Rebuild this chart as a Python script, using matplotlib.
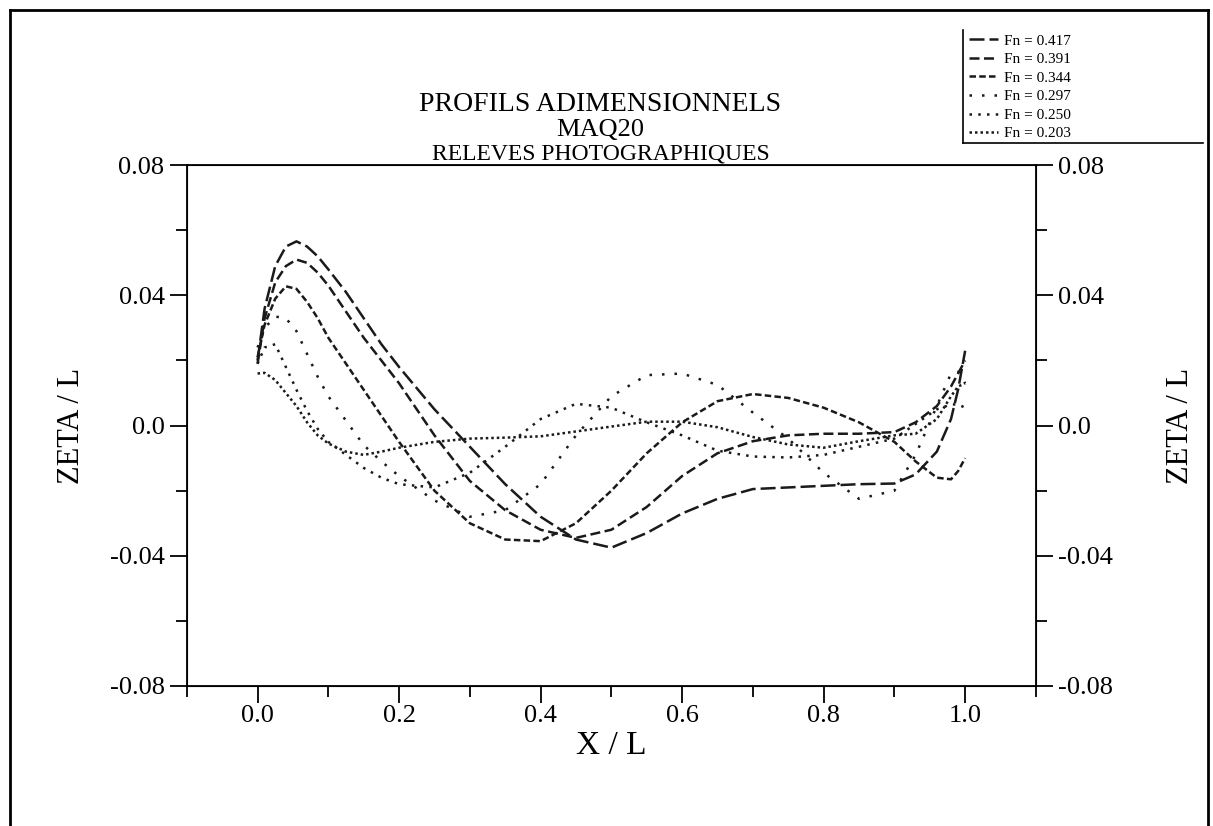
import matplotlib
matplotlib.use("Agg")
import matplotlib.pyplot as plt
from matplotlib.lines import Line2D
from matplotlib.ticker import MultipleLocator, FixedLocator

plt.rcParams['font.family'] = ['Liberation Serif', 'DejaVu Serif']

# abscisses communes (X / L)
x_l = [0.0, 0.01, 0.025, 0.04, 0.055, 0.07, 0.085, 0.1, 0.125, 0.15, 0.175, 0.2,
       0.25, 0.3, 0.35, 0.4, 0.45, 0.5, 0.55, 0.6, 0.65, 0.7, 0.75, 0.8, 0.85,
       0.9, 0.93, 0.96, 0.98, 0.99, 1.0]

fn_0417 = [0.020, 0.036, 0.049, 0.055, 0.0566, 0.055, 0.052, 0.048, 0.041, 0.033, 0.025, 0.018,
           0.005, -0.0065, -0.018, -0.028, -0.035, -0.0375, -0.033, -0.027, -0.0225, -0.0195, -0.019, -0.0185, -0.018,
           -0.0178, -0.015, -0.008, 0.002, 0.011, 0.023]
fn_0391 = [0.019, 0.033, 0.044, 0.049, 0.051, 0.050, 0.047, 0.043, 0.035, 0.027, 0.020, 0.013,
           -0.003, -0.017, -0.026, -0.032, -0.0345, -0.032, -0.025, -0.0155, -0.0085, -0.0048, -0.003, -0.0025, -0.0025,
           -0.002, 0.001, 0.006, 0.012, 0.016, 0.020]
fn_0344 = [0.021, 0.031, 0.039, 0.0428, 0.042, 0.038, 0.033, 0.027, 0.019, 0.011, 0.003, -0.005,
           -0.020, -0.030, -0.035, -0.0355, -0.030, -0.020, -0.0085, 0.001, 0.0075, 0.0097, 0.0085, 0.0055, 0.001,
           -0.005, -0.011, -0.016, -0.0165, -0.014, -0.010]
fn_0297 = [0.024, 0.030, 0.0335, 0.033, 0.029, 0.022, 0.015, 0.009, 0.0015, -0.006, -0.011, -0.0155,
           -0.023, -0.028, -0.026, -0.018, -0.003, 0.009, 0.0155, 0.016, 0.0125, 0.004, -0.004, -0.0145, -0.0225,
           -0.020, -0.009, 0.006, 0.016, 0.0165, 0.013]
fn_0250 = [0.019, 0.024, 0.025, 0.018, 0.011, 0.0045, -0.001, -0.005, -0.009, -0.013, -0.016, -0.018,
           -0.019, -0.0145, -0.0065, 0.002, 0.0067, 0.0055, 0.001, -0.003, -0.0077, -0.0095, -0.0098, -0.009, -0.0065,
           -0.004, 0.0005, 0.005, 0.0065, 0.0065, 0.0055]
fn_0203 = [0.016, 0.0162, 0.014, 0.010, 0.006, 0.001, -0.003, -0.0055, -0.008, -0.009, -0.008, -0.0068,
           -0.005, -0.004, -0.0037, -0.0033, -0.0018, -0.0003, 0.0012, 0.0012, -0.0005, -0.0035, -0.0058, -0.0068, -0.0048,
           -0.003, -0.0025, 0.002, 0.009, 0.012, 0.013]

series = [fn_0417, fn_0391, fn_0344, fn_0297, fn_0250, fn_0203]
legend_labels = ['Fn = 0.417', 'Fn = 0.391', 'Fn = 0.344', 'Fn = 0.297', 'Fn = 0.250', 'Fn = 0.203']
styles = [(0, (6, 2)), (0, (4, 1.8)), (0, (2.6, 1.3)), (0, (1, 4)), (0, (1, 2.5)), (0, (1, 1.2))]

y_ticks = [-0.08, -0.04, 0.0, 0.04, 0.08]
y_tick_labels = ['-0.08', '-0.04', '0.0', '0.04', '0.08']
x_ticks = [0.0, 0.2, 0.4, 0.6, 0.8, 1.0]
x_tick_labels = ['0.0', '0.2', '0.4', '0.6', '0.8', '1.0']

fig = plt.figure(figsize=(12.13, 8.26), dpi=100)
ax = fig.add_axes([0.154, 0.1695, 0.700, 0.6305])

handles = []
for ys, ls, lab in zip(series, styles, legend_labels):
    h, = ax.plot(x_l, ys, color='#1a1a1a', lw=1.8, linestyle=ls, label=lab)
    handles.append(h)

ax.set_xlim(-0.1, 1.1)
ax.set_ylim(-0.08, 0.08)
ax.xaxis.set_major_locator(FixedLocator(x_ticks))
ax.set_xticklabels(x_tick_labels)
ax.xaxis.set_minor_locator(MultipleLocator(0.1))
ax.set_yticks(y_ticks)
ax.set_yticklabels(y_tick_labels)
ax.yaxis.set_minor_locator(MultipleLocator(0.02))
ax.tick_params(which='major', direction='out', length=12, width=1.3, labelsize=19, pad=4)
ax.tick_params(which='minor', direction='out', length=8, width=1.3)
ax.tick_params(axis='x', top=False, pad=2)
for sp in ax.spines.values():
    sp.set_linewidth(1.3)

ax2 = ax.twinx()
ax2.set_ylim(-0.08, 0.08)
ax2.set_yticks(y_ticks)
ax2.set_yticklabels(y_tick_labels)
ax2.yaxis.set_minor_locator(MultipleLocator(0.02))
ax2.tick_params(which='major', direction='out', length=12, width=1.3, labelsize=19, pad=4)
ax2.tick_params(which='minor', direction='out', length=8, width=1.3)
ax2.set_ylabel('ZETA / L', fontsize=22, labelpad=38)

ax.set_xlabel('X / L', fontsize=24, labelpad=2)
ax.set_ylabel('ZETA / L', fontsize=22, labelpad=17)

fig.text(0.495, 0.873, 'PROFILS ADIMENSIONNELS', ha='center', va='center', fontsize=20)
fig.text(0.495, 0.843, 'MAQ20', ha='center', va='center', fontsize=19)
fig.text(0.495, 0.813, 'RELEVES PHOTOGRAPHIQUES', ha='center', va='center', fontsize=17)

fig.legend(handles=handles, loc='upper left', bbox_to_anchor=(0.790, 0.972),
           frameon=False, fontsize=11, handlelength=1.9, handletextpad=0.4,
           labelspacing=0.32, borderpad=0.2)

# cadre general et cadre de la legende
W, H = 1213, 826
def fig_line(x0, y0, x1, y1, lw=1.5):
    fig.add_artist(Line2D([x0 / W, x1 / W], [1 - y0 / H, 1 - y1 / H], color='black', lw=lw))

fig_line(10, 10, 10, 826, lw=2)
fig_line(10, 10, 1208, 10, lw=2)
fig_line(1208, 10, 1208, 826, lw=2)
fig_line(963, 30, 963, 143, lw=1.2)
fig_line(963, 143, 1203, 143, lw=1.2)

fig.savefig('out.png', dpi=100)
